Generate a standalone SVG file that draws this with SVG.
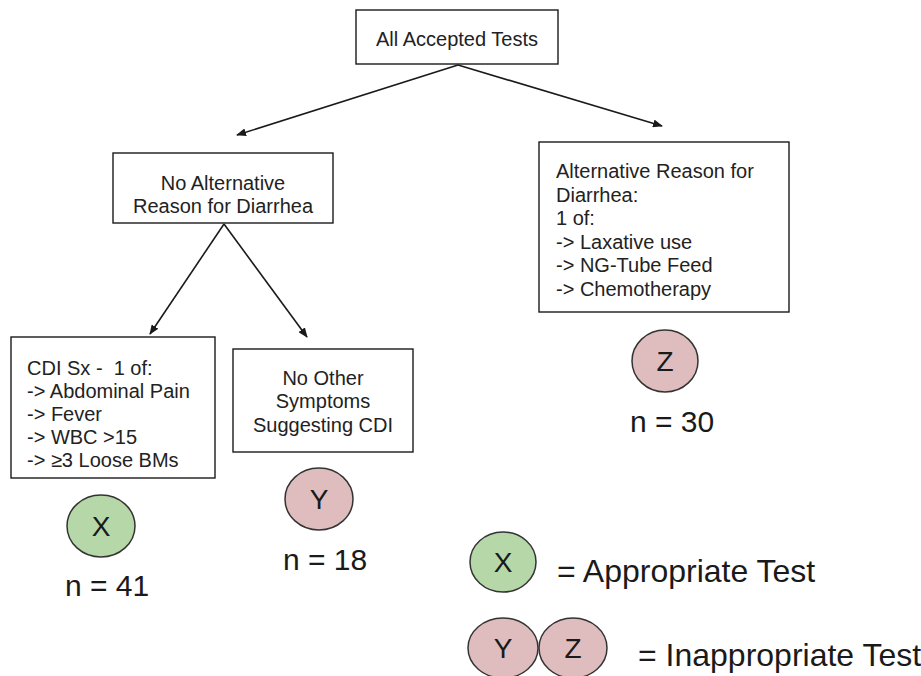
<svg xmlns="http://www.w3.org/2000/svg" width="921" height="676" viewBox="0 0 921 676">
<defs>
<marker id="ah" markerWidth="10" markerHeight="8" refX="9" refY="4" orient="auto" markerUnits="userSpaceOnUse">
<path d="M0,0 L10,4 L0,8 z" fill="#1a1a1a"/>
</marker>
</defs>
<style>
.box{fill:#fff;stroke:#1a1a1a;stroke-width:1.4}
.t{font-family:"Liberation Sans",Arial,sans-serif;font-size:20px;fill:#222}
.c{text-anchor:middle}
.n{font-family:"Liberation Sans",Arial,sans-serif;font-size:30px;fill:#1a1a1a;text-anchor:middle}
.lg{font-family:"Liberation Sans",Arial,sans-serif;font-size:32px;fill:#1a1a1a}
.cl{font-family:"Liberation Sans",Arial,sans-serif;font-size:28px;fill:#1a1a1a;text-anchor:middle}
.g{fill:#b6d7a8;stroke:#333;stroke-width:1.5}
.p{fill:#dfbdbf;stroke:#333;stroke-width:1.5}
.e{stroke:#1a1a1a;stroke-width:1.6;fill:none;marker-end:url(#ah)}
</style>
<rect width="921" height="676" fill="#fff"/>
<g id="connectors">
<line class="e" x1="458" y1="65" x2="237" y2="135"/>
<line class="e" x1="458" y1="65" x2="662" y2="126"/>
<line class="e" x1="224" y1="224" x2="150" y2="334"/>
<line class="e" x1="224" y1="224" x2="307" y2="337"/>
</g>
<g id="root">
<rect class="box" x="356" y="10" width="202" height="54"/>
<text class="t c" x="457" y="46">All Accepted Tests</text>
</g>
<g id="noalt">
<rect class="box" x="113" y="153" width="220" height="70"/>
<text class="t c" x="223" y="190">No Alternative</text>
<text class="t c" x="223" y="213">Reason for Diarrhea</text>
</g>
<g id="alt">
<rect class="box" x="539" y="142" width="250" height="170"/>
<text class="t" x="556" y="178">Alternative Reason for</text>
<text class="t" x="556" y="201.5">Diarrhea:</text>
<text class="t" x="556" y="225">1 of:</text>
<text class="t" x="556" y="248.5">-&gt; Laxative use</text>
<text class="t" x="556" y="272">-&gt; NG-Tube Feed</text>
<text class="t" x="556" y="295.5">-&gt; Chemotherapy</text>
</g>
<g id="cdi">
<rect class="box" x="11" y="337" width="204" height="141"/>
<text class="t" x="27" y="375" xml:space="preserve">CDI Sx -  1 of:</text>
<text class="t" x="27" y="398">-&gt; Abdominal Pain</text>
<text class="t" x="27" y="421">-&gt; Fever</text>
<text class="t" x="27" y="444">-&gt; WBC &gt;15</text>
<text class="t" x="27" y="467">-&gt; ≥3 Loose BMs</text>
</g>
<g id="noother">
<rect class="box" x="233" y="349" width="180" height="103"/>
<text class="t c" x="323" y="385">No Other</text>
<text class="t c" x="323" y="408">Symptoms</text>
<text class="t c" x="323" y="432">Suggesting CDI</text>
</g>
<g id="x-result">
<ellipse class="g" cx="101" cy="526" rx="34" ry="31"/>
<text class="cl" x="101" y="536">X</text>
<text class="n" x="107" y="596">n = 41</text>
</g>
<g id="y-result">
<ellipse class="p" cx="319" cy="499" rx="34" ry="31"/>
<text class="cl" x="319" y="509">Y</text>
<text class="n" x="325" y="570">n = 18</text>
</g>
<g id="z-result">
<ellipse class="p" cx="665" cy="361" rx="33" ry="31"/>
<text class="cl" x="665" y="371">Z</text>
<text class="n" x="672" y="432">n = 30</text>
</g>
<g id="legend">
<ellipse class="g" cx="503" cy="562" rx="33" ry="30"/>
<text class="cl" x="503" y="572">X</text>
<text class="lg" x="557" y="582">= Appropriate Test</text>
<ellipse class="p" cx="503" cy="648" rx="35" ry="30"/>
<text class="cl" x="503" y="658">Y</text>
<ellipse class="p" cx="573" cy="648" rx="34" ry="30"/>
<text class="cl" x="573" y="658">Z</text>
<text class="lg" x="638" y="666">= Inappropriate Test</text>
</g>
</svg>
